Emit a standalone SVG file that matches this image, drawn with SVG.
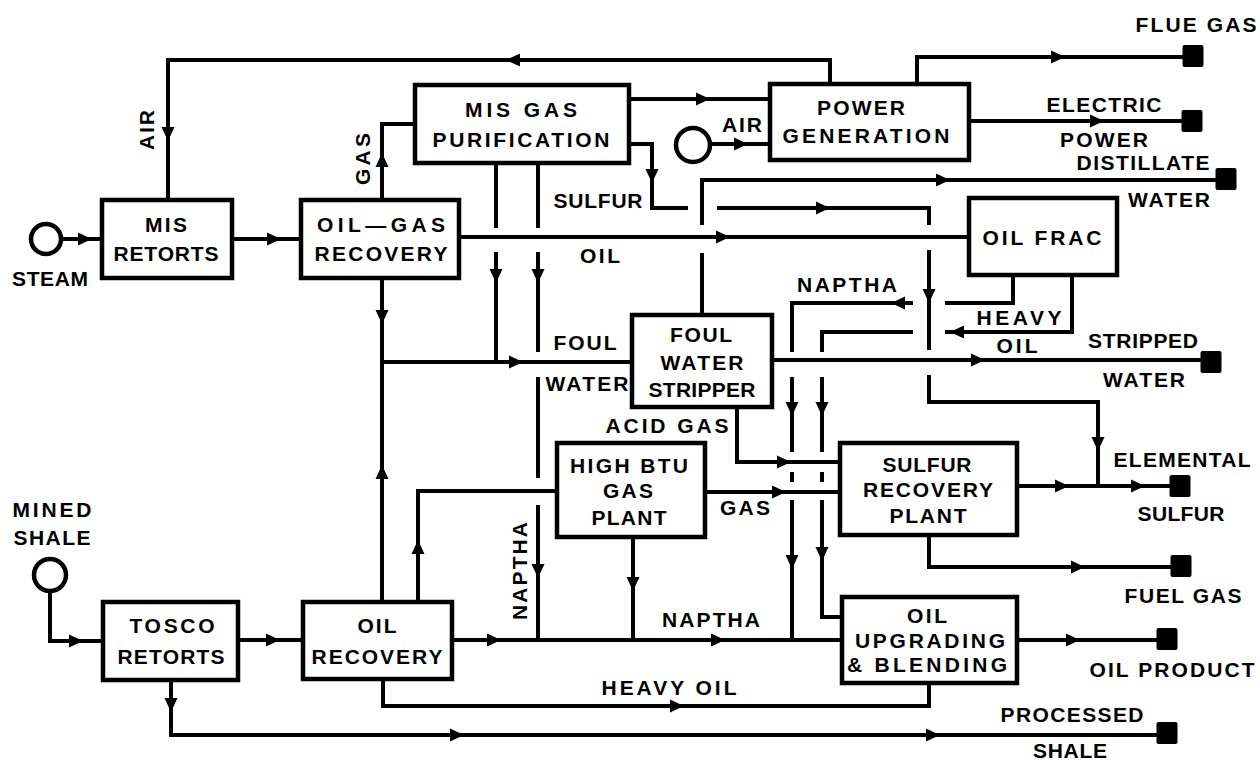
<svg xmlns="http://www.w3.org/2000/svg" xmlns:xlink="http://www.w3.org/1999/xlink" width="1259" height="761" viewBox="0 0 1259 761">
<style>
.box{fill:#fff;stroke:#000;stroke-width:4.5}
.ln{fill:none;stroke:#000;stroke-width:4;stroke-linejoin:miter;stroke-linecap:butt}
.src{fill:#fff;stroke:#000;stroke-width:4.5}
.term{fill:#000}
text{font-family:"Liberation Sans",Arial,sans-serif;font-weight:bold;font-size:21px;fill:#000;text-anchor:middle}
</style>
<defs>
<path id="ar" d="M7,0 L-7,-6.5 L-7,6.5 Z" fill="#000"/>
<rect id="sq" x="-10.5" y="-11" width="21" height="22" rx="2" fill="#000"/>
</defs>
<rect width="1259" height="761" fill="#fff"/>

<g id="connectors">
<path class="ln" d="M61,239 H102"/>
<path class="ln" d="M232,239 H301"/>
<path class="ln" d="M830,84 V60 H168 V200"/>
<path class="ln" d="M382,200 V124 H415"/>
<path class="ln" d="M629,99 H770"/>
<path class="ln" d="M710,144 H770"/>
<path class="ln" d="M629,144 H652 V208 H688"/>
<path class="ln" d="M717,208 H929 V225 M929,250 V350 M929,375 V402 H1098 V486"/>
<path class="ln" d="M702,315 V253 M702,225 V180 H1226"/>
<path class="ln" d="M459,237 H969"/>
<path class="ln" d="M496,163 V228 M496,252 V362"/>
<path class="ln" d="M538,163 V228 M538,252 V352 M538,377 V478 M538,505 V640"/>
<path class="ln" d="M382,278 V362 M382,602 V362 H632"/>
<path class="ln" d="M418,602 V491 H557"/>
<path class="ln" d="M452,640 H842"/>
<path class="ln" d="M633,537 V640"/>
<path class="ln" d="M1013,275 V303 H945 M913,303 H792 V352 M792,377 V452 M792,472 V482 M792,500 V640"/>
<path class="ln" d="M1072,275 V332 H945 M913,332 H822 V352 M822,377 V452 M822,472 V482 M822,500 V617 H842"/>
<path class="ln" d="M772,360 H1211"/>
<path class="ln" d="M737,407 V462 H840"/>
<path class="ln" d="M705,492 H840"/>
<path class="ln" d="M1017,486 H1180"/>
<path class="ln" d="M929,535 V567 H1181"/>
<path class="ln" d="M1017,640 H1167"/>
<path class="ln" d="M383,679 V706 H929 V683"/>
<path class="ln" d="M171,680 V735 H1167"/>
<path class="ln" d="M50,593 V641 H103"/>
<path class="ln" d="M238,640 H303"/>
<path class="ln" d="M917,84 V57 H1193"/>
<path class="ln" d="M969,121 H1192"/>

<use xlink:href="#ar" transform="translate(85,239)"/>
<use xlink:href="#ar" transform="translate(274,239)"/>
<use xlink:href="#ar" transform="translate(513,60) rotate(180)"/>
<use xlink:href="#ar" transform="translate(168,134) rotate(90)"/>
<use xlink:href="#ar" transform="translate(382,160) rotate(-90)"/>
<use xlink:href="#ar" transform="translate(703,99)"/>
<use xlink:href="#ar" transform="translate(741,144)"/>
<use xlink:href="#ar" transform="translate(652,176) rotate(90)"/>
<use xlink:href="#ar" transform="translate(823,208)"/>
<use xlink:href="#ar" transform="translate(929,296) rotate(90)"/>
<use xlink:href="#ar" transform="translate(1098,444) rotate(90)"/>
<use xlink:href="#ar" transform="translate(943,180)"/>
<use xlink:href="#ar" transform="translate(723,237)"/>
<use xlink:href="#ar" transform="translate(496,276) rotate(90)"/>
<use xlink:href="#ar" transform="translate(538,276) rotate(90)"/>
<use xlink:href="#ar" transform="translate(538,571) rotate(90)"/>
<use xlink:href="#ar" transform="translate(382,317) rotate(90)"/>
<use xlink:href="#ar" transform="translate(382,472) rotate(-90)"/>
<use xlink:href="#ar" transform="translate(516,362)"/>
<use xlink:href="#ar" transform="translate(418,547) rotate(-90)"/>
<use xlink:href="#ar" transform="translate(494,640)"/>
<use xlink:href="#ar" transform="translate(718,640)"/>
<use xlink:href="#ar" transform="translate(633,584) rotate(90)"/>
<use xlink:href="#ar" transform="translate(898,303) rotate(180)"/>
<use xlink:href="#ar" transform="translate(792,409) rotate(90)"/>
<use xlink:href="#ar" transform="translate(792,562) rotate(90)"/>
<use xlink:href="#ar" transform="translate(957,332) rotate(180)"/>
<use xlink:href="#ar" transform="translate(822,409) rotate(90)"/>
<use xlink:href="#ar" transform="translate(822,554) rotate(90)"/>
<use xlink:href="#ar" transform="translate(978,360)"/>
<use xlink:href="#ar" transform="translate(784,462)"/>
<use xlink:href="#ar" transform="translate(779,492)"/>
<use xlink:href="#ar" transform="translate(1062,486)"/>
<use xlink:href="#ar" transform="translate(1138,486)"/>
<use xlink:href="#ar" transform="translate(1078,567)"/>
<use xlink:href="#ar" transform="translate(1073,640)"/>
<use xlink:href="#ar" transform="translate(677,706)"/>
<use xlink:href="#ar" transform="translate(171,705) rotate(90)"/>
<use xlink:href="#ar" transform="translate(457,735)"/>
<use xlink:href="#ar" transform="translate(933,735)"/>
<use xlink:href="#ar" transform="translate(76,641)"/>
<use xlink:href="#ar" transform="translate(273,640)"/>
<use xlink:href="#ar" transform="translate(1058,57)"/>
<use xlink:href="#ar" transform="translate(1097,121)"/>

<text transform="translate(154,130) rotate(-90)" textLength="40" lengthAdjust="spacing">AIR</text>
<text transform="translate(370,159) rotate(-90)" textLength="52" lengthAdjust="spacing">GAS</text>
<text x="742" y="132" textLength="40" lengthAdjust="spacing">AIR</text>
<text x="598" y="208" textLength="89" lengthAdjust="spacing">SULFUR</text>
<text x="600" y="263" textLength="40" lengthAdjust="spacing">OIL</text>
<text x="847" y="292" textLength="100" lengthAdjust="spacing">NAPTHA</text>
<text x="1019" y="325" textLength="85" lengthAdjust="spacing">HEAVY</text>
<text x="1017" y="353" textLength="41" lengthAdjust="spacing">OIL</text>
<text x="585" y="350" textLength="63" lengthAdjust="spacing">FOUL</text>
<text x="587" y="391" textLength="83" lengthAdjust="spacing">WATER</text>
<text x="667" y="433" textLength="123" lengthAdjust="spacing">ACID GAS</text>
<text x="745" y="515" textLength="50" lengthAdjust="spacing">GAS</text>
<text transform="translate(527,571) rotate(-90)" textLength="98" lengthAdjust="spacing">NAPTHA</text>
<text x="711" y="627" textLength="98" lengthAdjust="spacing">NAPTHA</text>
<text x="669" y="695" textLength="135" lengthAdjust="spacing">HEAVY OIL</text>
</g>

<g id="steam">
<circle class="src" cx="46" cy="239" r="15"/>
<text x="50" y="286" textLength="76" lengthAdjust="spacing">STEAM</text>
</g>
<g id="mined-shale">
<circle class="src" cx="50" cy="575" r="16"/>
<text x="52" y="517" textLength="79" lengthAdjust="spacing">MINED</text>
<text x="52" y="545" textLength="77" lengthAdjust="spacing">SHALE</text>
</g>
<g id="air-source">
<circle class="src" cx="693" cy="145" r="17"/>
</g>

<g id="mis-retorts">
<rect class="box" x="102" y="200" width="130" height="78"/>
<text x="166" y="232" textLength="42" lengthAdjust="spacing">MIS</text>
<text x="166" y="261" textLength="105" lengthAdjust="spacing">RETORTS</text>
</g>
<g id="oil-gas-recovery">
<rect class="box" x="301" y="200" width="158" height="78"/>
<text x="381" y="232" textLength="128" lengthAdjust="spacing">OIL—GAS</text>
<text x="381" y="261" textLength="133" lengthAdjust="spacing">RECOVERY</text>
</g>
<g id="mis-gas-purification">
<rect class="box" x="415" y="85" width="214" height="78"/>
<text x="521" y="117" textLength="112" lengthAdjust="spacing">MIS GAS</text>
<text x="521" y="147" textLength="177" lengthAdjust="spacing">PURIFICATION</text>
</g>
<g id="power-generation">
<rect class="box" x="770" y="84" width="199" height="76"/>
<text x="861" y="115" textLength="88" lengthAdjust="spacing">POWER</text>
<text x="866" y="143" textLength="167" lengthAdjust="spacing">GENERATION</text>
</g>
<g id="oil-frac">
<rect class="box" x="969" y="198" width="148" height="77"/>
<text x="1042" y="245" textLength="119" lengthAdjust="spacing">OIL FRAC</text>
</g>
<g id="foul-water-stripper">
<rect class="box" x="632" y="315" width="140" height="92"/>
<text x="701" y="342" textLength="62" lengthAdjust="spacing">FOUL</text>
<text x="702" y="370" textLength="83" lengthAdjust="spacing">WATER</text>
<text x="702" y="397" textLength="107" lengthAdjust="spacing">STRIPPER</text>
</g>
<g id="high-btu-gas-plant">
<rect class="box" x="557" y="443" width="148" height="94"/>
<text x="629" y="473" textLength="118" lengthAdjust="spacing">HIGH BTU</text>
<text x="628" y="498" textLength="50" lengthAdjust="spacing">GAS</text>
<text x="629" y="525" textLength="75" lengthAdjust="spacing">PLANT</text>
</g>
<g id="sulfur-recovery-plant">
<rect class="box" x="840" y="443" width="177" height="92"/>
<text x="927" y="472" textLength="89" lengthAdjust="spacing">SULFUR</text>
<text x="928" y="497" textLength="130" lengthAdjust="spacing">RECOVERY</text>
<text x="928" y="523" textLength="77" lengthAdjust="spacing">PLANT</text>
</g>
<g id="oil-upgrading-blending">
<rect class="box" x="842" y="597" width="175" height="86"/>
<text x="927" y="623" textLength="40" lengthAdjust="spacing">OIL</text>
<text x="930" y="648" textLength="150" lengthAdjust="spacing">UPGRADING</text>
<text x="927" y="672" textLength="160" lengthAdjust="spacing">&amp; BLENDING</text>
</g>
<g id="tosco-retorts">
<rect class="box" x="103" y="602" width="135" height="78"/>
<text x="172" y="633" textLength="85" lengthAdjust="spacing">TOSCO</text>
<text x="171" y="664" textLength="107" lengthAdjust="spacing">RETORTS</text>
</g>
<g id="oil-recovery">
<rect class="box" x="303" y="602" width="149" height="77"/>
<text x="377" y="633" textLength="39" lengthAdjust="spacing">OIL</text>
<text x="377" y="664" textLength="131" lengthAdjust="spacing">RECOVERY</text>
</g>

<g id="flue-gas">
<use xlink:href="#sq" transform="translate(1193,56)"/>
<text x="1196" y="32" textLength="121" lengthAdjust="spacing">FLUE GAS</text>
</g>
<g id="electric-power">
<use xlink:href="#sq" transform="translate(1192,121)"/>
<text x="1104" y="112" textLength="115" lengthAdjust="spacing">ELECTRIC</text>
<text x="1104" y="147" textLength="88" lengthAdjust="spacing">POWER</text>
</g>
<g id="distillate-water">
<use xlink:href="#sq" transform="translate(1226,179)"/>
<text x="1143" y="170" textLength="133" lengthAdjust="spacing">DISTILLATE</text>
<text x="1169" y="207" textLength="82" lengthAdjust="spacing">WATER</text>
</g>
<g id="stripped-water">
<use xlink:href="#sq" transform="translate(1211,362)"/>
<text x="1143" y="348" textLength="110" lengthAdjust="spacing">STRIPPED</text>
<text x="1144" y="387" textLength="82" lengthAdjust="spacing">WATER</text>
</g>
<g id="elemental-sulfur">
<use xlink:href="#sq" transform="translate(1180,486)"/>
<text x="1182" y="467" textLength="137" lengthAdjust="spacing">ELEMENTAL</text>
<text x="1181" y="521" textLength="87" lengthAdjust="spacing">SULFUR</text>
</g>
<g id="fuel-gas">
<use xlink:href="#sq" transform="translate(1181,566)"/>
<text x="1183" y="603" textLength="117" lengthAdjust="spacing">FUEL GAS</text>
</g>
<g id="oil-product">
<use xlink:href="#sq" transform="translate(1167,639)"/>
<text x="1172" y="677" textLength="165" lengthAdjust="spacing">OIL PRODUCT</text>
</g>
<g id="processed-shale">
<use xlink:href="#sq" transform="translate(1167,733)"/>
<text x="1072" y="722" textLength="143" lengthAdjust="spacing">PROCESSED</text>
<text x="1070" y="758" textLength="74" lengthAdjust="spacing">SHALE</text>
</g>
</svg>
